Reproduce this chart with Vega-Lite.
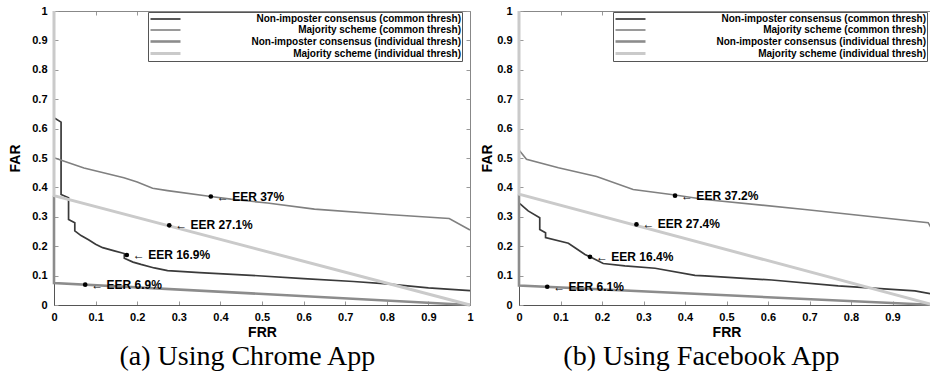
{
  "$schema": "https://vega.github.io/schema/vega-lite/v6.json",
  "padding": {"left": 8, "top": 5, "right": 0, "bottom": 0},
  "spacing": 4,
  "datasets": {
    "lines": [
      {"panel": "a", "series": "Non-imposter consensus (common thresh)", "frr": 0.002, "far": 0.635},
      {"panel": "a", "series": "Non-imposter consensus (common thresh)", "frr": 0.017, "far": 0.622},
      {"panel": "a", "series": "Non-imposter consensus (common thresh)", "frr": 0.017, "far": 0.376},
      {"panel": "a", "series": "Non-imposter consensus (common thresh)", "frr": 0.035, "far": 0.365},
      {"panel": "a", "series": "Non-imposter consensus (common thresh)", "frr": 0.035, "far": 0.291},
      {"panel": "a", "series": "Non-imposter consensus (common thresh)", "frr": 0.05, "far": 0.28},
      {"panel": "a", "series": "Non-imposter consensus (common thresh)", "frr": 0.05, "far": 0.252},
      {"panel": "a", "series": "Non-imposter consensus (common thresh)", "frr": 0.065, "far": 0.236},
      {"panel": "a", "series": "Non-imposter consensus (common thresh)", "frr": 0.083, "far": 0.222},
      {"panel": "a", "series": "Non-imposter consensus (common thresh)", "frr": 0.1, "far": 0.207},
      {"panel": "a", "series": "Non-imposter consensus (common thresh)", "frr": 0.117, "far": 0.195},
      {"panel": "a", "series": "Non-imposter consensus (common thresh)", "frr": 0.145, "far": 0.184},
      {"panel": "a", "series": "Non-imposter consensus (common thresh)", "frr": 0.169, "far": 0.175},
      {"panel": "a", "series": "Non-imposter consensus (common thresh)", "frr": 0.169, "far": 0.159},
      {"panel": "a", "series": "Non-imposter consensus (common thresh)", "frr": 0.19, "far": 0.146},
      {"panel": "a", "series": "Non-imposter consensus (common thresh)", "frr": 0.209, "far": 0.138},
      {"panel": "a", "series": "Non-imposter consensus (common thresh)", "frr": 0.241, "far": 0.126},
      {"panel": "a", "series": "Non-imposter consensus (common thresh)", "frr": 0.273, "far": 0.117},
      {"panel": "a", "series": "Non-imposter consensus (common thresh)", "frr": 0.35, "far": 0.11},
      {"panel": "a", "series": "Non-imposter consensus (common thresh)", "frr": 0.474, "far": 0.101},
      {"panel": "a", "series": "Non-imposter consensus (common thresh)", "frr": 0.6, "far": 0.09},
      {"panel": "a", "series": "Non-imposter consensus (common thresh)", "frr": 0.72, "far": 0.08},
      {"panel": "a", "series": "Non-imposter consensus (common thresh)", "frr": 0.8, "far": 0.072},
      {"panel": "a", "series": "Non-imposter consensus (common thresh)", "frr": 0.9, "far": 0.058},
      {"panel": "a", "series": "Non-imposter consensus (common thresh)", "frr": 1.0, "far": 0.049},
      {"panel": "a", "series": "Majority scheme (common thresh)", "frr": 0, "far": 0.501},
      {"panel": "a", "series": "Majority scheme (common thresh)", "frr": 0.072, "far": 0.466},
      {"panel": "a", "series": "Majority scheme (common thresh)", "frr": 0.168, "far": 0.433},
      {"panel": "a", "series": "Majority scheme (common thresh)", "frr": 0.2, "far": 0.418},
      {"panel": "a", "series": "Majority scheme (common thresh)", "frr": 0.237, "far": 0.397},
      {"panel": "a", "series": "Majority scheme (common thresh)", "frr": 0.273, "far": 0.389},
      {"panel": "a", "series": "Majority scheme (common thresh)", "frr": 0.377, "far": 0.369},
      {"panel": "a", "series": "Majority scheme (common thresh)", "frr": 0.425, "far": 0.36},
      {"panel": "a", "series": "Majority scheme (common thresh)", "frr": 0.513, "far": 0.347},
      {"panel": "a", "series": "Majority scheme (common thresh)", "frr": 0.626, "far": 0.326},
      {"panel": "a", "series": "Majority scheme (common thresh)", "frr": 0.802, "far": 0.308},
      {"panel": "a", "series": "Majority scheme (common thresh)", "frr": 0.95, "far": 0.294},
      {"panel": "a", "series": "Majority scheme (common thresh)", "frr": 1.0, "far": 0.255},
      {"panel": "a", "series": "Non-imposter consensus (individual thresh)", "frr": 0, "far": 0.372},
      {"panel": "a", "series": "Non-imposter consensus (individual thresh)", "frr": 0, "far": 0.075},
      {"panel": "a", "series": "Non-imposter consensus (individual thresh)", "frr": 1, "far": 0},
      {"panel": "a", "series": "Majority scheme (individual thresh)", "frr": 0, "far": 1},
      {"panel": "a", "series": "Majority scheme (individual thresh)", "frr": 0, "far": 0.372},
      {"panel": "a", "series": "Majority scheme (individual thresh)", "frr": 1, "far": 0},
      {"panel": "b", "series": "Non-imposter consensus (common thresh)", "frr": 0.002, "far": 0.345},
      {"panel": "b", "series": "Non-imposter consensus (common thresh)", "frr": 0.022, "far": 0.32},
      {"panel": "b", "series": "Non-imposter consensus (common thresh)", "frr": 0.05, "far": 0.297},
      {"panel": "b", "series": "Non-imposter consensus (common thresh)", "frr": 0.05, "far": 0.257},
      {"panel": "b", "series": "Non-imposter consensus (common thresh)", "frr": 0.064, "far": 0.246},
      {"panel": "b", "series": "Non-imposter consensus (common thresh)", "frr": 0.064, "far": 0.229},
      {"panel": "b", "series": "Non-imposter consensus (common thresh)", "frr": 0.119, "far": 0.21},
      {"panel": "b", "series": "Non-imposter consensus (common thresh)", "frr": 0.135, "far": 0.195},
      {"panel": "b", "series": "Non-imposter consensus (common thresh)", "frr": 0.159, "far": 0.172},
      {"panel": "b", "series": "Non-imposter consensus (common thresh)", "frr": 0.171, "far": 0.164},
      {"panel": "b", "series": "Non-imposter consensus (common thresh)", "frr": 0.203, "far": 0.141},
      {"panel": "b", "series": "Non-imposter consensus (common thresh)", "frr": 0.255, "far": 0.133},
      {"panel": "b", "series": "Non-imposter consensus (common thresh)", "frr": 0.328, "far": 0.125},
      {"panel": "b", "series": "Non-imposter consensus (common thresh)", "frr": 0.424, "far": 0.101},
      {"panel": "b", "series": "Non-imposter consensus (common thresh)", "frr": 0.448, "far": 0.099},
      {"panel": "b", "series": "Non-imposter consensus (common thresh)", "frr": 0.609, "far": 0.085},
      {"panel": "b", "series": "Non-imposter consensus (common thresh)", "frr": 0.769, "far": 0.065},
      {"panel": "b", "series": "Non-imposter consensus (common thresh)", "frr": 0.954, "far": 0.048},
      {"panel": "b", "series": "Non-imposter consensus (common thresh)", "frr": 1.0, "far": 0.036},
      {"panel": "b", "series": "Majority scheme (common thresh)", "frr": 0, "far": 0.527},
      {"panel": "b", "series": "Majority scheme (common thresh)", "frr": 0.018, "far": 0.496},
      {"panel": "b", "series": "Majority scheme (common thresh)", "frr": 0.095, "far": 0.467},
      {"panel": "b", "series": "Majority scheme (common thresh)", "frr": 0.187, "far": 0.437},
      {"panel": "b", "series": "Majority scheme (common thresh)", "frr": 0.275, "far": 0.393},
      {"panel": "b", "series": "Majority scheme (common thresh)", "frr": 0.376, "far": 0.374},
      {"panel": "b", "series": "Majority scheme (common thresh)", "frr": 0.448, "far": 0.359},
      {"panel": "b", "series": "Majority scheme (common thresh)", "frr": 0.689, "far": 0.325},
      {"panel": "b", "series": "Majority scheme (common thresh)", "frr": 0.986, "far": 0.28},
      {"panel": "b", "series": "Majority scheme (common thresh)", "frr": 1.0, "far": 0.246},
      {"panel": "b", "series": "Non-imposter consensus (individual thresh)", "frr": 0, "far": 0.376},
      {"panel": "b", "series": "Non-imposter consensus (individual thresh)", "frr": 0, "far": 0.066},
      {"panel": "b", "series": "Non-imposter consensus (individual thresh)", "frr": 1, "far": 0},
      {"panel": "b", "series": "Majority scheme (individual thresh)", "frr": 0, "far": 1},
      {"panel": "b", "series": "Majority scheme (individual thresh)", "frr": 0, "far": 0.377},
      {"panel": "b", "series": "Majority scheme (individual thresh)", "frr": 1, "far": 0}
    ],
    "points": [
      {"panel": "a", "frr": 0.377, "far": 0.369, "label": "← EER 37%"},
      {"panel": "a", "frr": 0.277, "far": 0.271, "label": "← EER 27.1%"},
      {"panel": "a", "frr": 0.175, "far": 0.17, "label": "← EER 16.9%"},
      {"panel": "a", "frr": 0.075, "far": 0.069, "label": "← EER 6.9%"},
      {"panel": "b", "frr": 0.376, "far": 0.372, "label": "← EER 37.2%"},
      {"panel": "b", "frr": 0.283, "far": 0.274, "label": "← EER 27.4%"},
      {"panel": "b", "frr": 0.171, "far": 0.164, "label": "← EER 16.4%"},
      {"panel": "b", "frr": 0.068, "far": 0.062, "label": "← EER 6.1%"}
    ]
  },
  "hconcat": [
    {
      "width": 416,
      "height": 294,
      "title": {"text": "(a) Using Chrome App", "orient": "bottom", "anchor": "middle", "frame": "bounds", "offset": 4, "dx": 5},
      "layer": [
        {
          "data": {"name": "lines"},
          "transform": [{"filter": "datum.panel == 'a'"}],
          "mark": {"type": "line", "strokeCap": "butt", "strokeJoin": "miter"},
          "encoding": {
            "x": {"field": "frr", "type": "quantitative", "scale": {"domain": [0, 1], "nice": false},
              "axis": {"orient": "bottom", "title": "FRR", "values": [0,0.1,0.2,0.3,0.4,0.5,0.6,0.7,0.8,0.9,1], "format": "~g", "tickSize": -4, "labelPadding": 10, "titlePadding": 3, "domainColor": "#555"}},
            "y": {"field": "far", "type": "quantitative", "scale": {"domain": [0, 1], "nice": false},
              "axis": {"orient": "left", "title": "FAR", "values": [0,0.1,0.2,0.3,0.4,0.5,0.6,0.7,0.8,0.9,1], "format": "~g", "tickSize": -4, "labelPadding": 11, "titlePadding": 9, "domainColor": "#555"}},
            "color": {"field": "series", "type": "nominal",
              "scale": {"domain": ["Non-imposter consensus (common thresh)", "Majority scheme (common thresh)", "Non-imposter consensus (individual thresh)", "Majority scheme (individual thresh)"], "range": ["#3a3a3a", "#808080", "#8c8c8c", "#cacaca"]},
              "legend": {"title": null}},
            "strokeWidth": {"field": "series", "type": "nominal",
              "scale": {"type": "ordinal", "domain": ["Non-imposter consensus (common thresh)", "Majority scheme (common thresh)", "Non-imposter consensus (individual thresh)", "Majority scheme (individual thresh)"], "range": [1.7, 1.6, 2.6, 3]},
              "legend": {"title": null}},
            "order": {"value": null}
          }
        },
        {
          "data": {"name": "points"},
          "transform": [{"filter": "datum.panel == 'a'"}],
          "mark": {"type": "point", "filled": true, "color": "black", "size": 22, "opacity": 1},
          "encoding": {
            "x": {"field": "frr", "type": "quantitative", "scale": {"domain": [0, 1], "nice": false},
              "axis": {"orient": "top", "title": null, "labels": false, "values": [0,0.1,0.2,0.3,0.4,0.5,0.6,0.7,0.8,0.9,1], "tickSize": -4, "domainColor": "#888"}},
            "y": {"field": "far", "type": "quantitative", "scale": {"domain": [0, 1], "nice": false},
              "axis": {"orient": "right", "title": null, "labels": false, "values": [0,0.1,0.2,0.3,0.4,0.5,0.6,0.7,0.8,0.9,1], "tickSize": -4, "domainColor": "#888"}}
          }
        },
        {
          "data": {"name": "points"},
          "transform": [{"filter": "datum.panel == 'a'"}],
          "mark": {"type": "text", "align": "left", "baseline": "middle", "dx": 6, "font": "Liberation Sans", "fontSize": 12, "fontWeight": "bold", "color": "black"},
          "encoding": {
            "x": {"field": "frr", "type": "quantitative", "scale": {"domain": [0, 1], "nice": false}, "axis": null},
            "y": {"field": "far", "type": "quantitative", "scale": {"domain": [0, 1], "nice": false}, "axis": null},
            "text": {"field": "label"}
          }
        }
      ],
      "resolve": {"axis": {"x": "independent", "y": "independent"}}
    },
    {
      "width": 415,
      "height": 294,
      "title": {"text": "(b) Using Facebook App", "orient": "bottom", "anchor": "middle", "frame": "bounds", "offset": 4, "dx": -9},
      "layer": [
        {
          "data": {"name": "lines"},
          "transform": [{"filter": "datum.panel == 'b'"}],
          "mark": {"type": "line", "strokeCap": "butt", "strokeJoin": "miter"},
          "encoding": {
            "x": {"field": "frr", "type": "quantitative", "scale": {"domain": [0, 1], "nice": false},
              "axis": {"orient": "bottom", "title": "FRR", "values": [0,0.1,0.2,0.3,0.4,0.5,0.6,0.7,0.8,0.9,1], "format": "~g", "tickSize": -4, "labelPadding": 10, "titlePadding": 3, "domainColor": "#555"}},
            "y": {"field": "far", "type": "quantitative", "scale": {"domain": [0, 1], "nice": false},
              "axis": {"orient": "left", "title": "FAR", "values": [0,0.1,0.2,0.3,0.4,0.5,0.6,0.7,0.8,0.9,1], "format": "~g", "tickSize": -4, "labelPadding": 11, "titlePadding": 2, "domainColor": "#555"}},
            "color": {"field": "series", "type": "nominal",
              "scale": {"domain": ["Non-imposter consensus (common thresh)", "Majority scheme (common thresh)", "Non-imposter consensus (individual thresh)", "Majority scheme (individual thresh)"], "range": ["#3a3a3a", "#808080", "#8c8c8c", "#cacaca"]},
              "legend": {"title": null}},
            "strokeWidth": {"field": "series", "type": "nominal",
              "scale": {"type": "ordinal", "domain": ["Non-imposter consensus (common thresh)", "Majority scheme (common thresh)", "Non-imposter consensus (individual thresh)", "Majority scheme (individual thresh)"], "range": [1.7, 1.6, 2.6, 3]},
              "legend": {"title": null}},
            "order": {"value": null}
          }
        },
        {
          "data": {"name": "points"},
          "transform": [{"filter": "datum.panel == 'b'"}],
          "mark": {"type": "point", "filled": true, "color": "black", "size": 22, "opacity": 1},
          "encoding": {
            "x": {"field": "frr", "type": "quantitative", "scale": {"domain": [0, 1], "nice": false},
              "axis": {"orient": "top", "title": null, "labels": false, "values": [0,0.1,0.2,0.3,0.4,0.5,0.6,0.7,0.8,0.9,1], "tickSize": -4, "domainColor": "#888"}},
            "y": {"field": "far", "type": "quantitative", "scale": {"domain": [0, 1], "nice": false},
              "axis": {"orient": "right", "title": null, "labels": false, "values": [0,0.1,0.2,0.3,0.4,0.5,0.6,0.7,0.8,0.9,1], "tickSize": -4, "domainColor": "#888"}}
          }
        },
        {
          "data": {"name": "points"},
          "transform": [{"filter": "datum.panel == 'b'"}],
          "mark": {"type": "text", "align": "left", "baseline": "middle", "dx": 6, "font": "Liberation Sans", "fontSize": 12, "fontWeight": "bold", "color": "black"},
          "encoding": {
            "x": {"field": "frr", "type": "quantitative", "scale": {"domain": [0, 1], "nice": false}, "axis": null},
            "y": {"field": "far", "type": "quantitative", "scale": {"domain": [0, 1], "nice": false}, "axis": null},
            "text": {"field": "label"}
          }
        }
      ],
      "resolve": {"axis": {"x": "independent", "y": "independent"}}
    }
  ],
  "resolve": {"scale": {"color": "independent", "strokeWidth": "independent"}, "legend": {"color": "independent", "strokeWidth": "independent"}},
  "config": {
    "view": {"stroke": null},
    "background": "white",
    "axis": {"grid": false, "labelFont": "Liberation Sans", "labelFontSize": 11, "labelFontWeight": "bold", "labelColor": "black", "titleFont": "Liberation Sans", "titleFontSize": 14, "titleFontWeight": "bold", "titleColor": "black", "tickColor": "#999", "labelFlush": false, "labelOverlap": false},
    "legend": {"orient": "none", "legendX": 94, "legendY": 1, "symbolType": "M-3,0H3", "symbolSize": 100, "symbolOffset": 10, "labelAlign": "right", "labelOffset": 289, "labelLimit": 400, "labelFont": "Liberation Sans", "labelFontSize": 10, "labelFontWeight": "bold", "labelColor": "black", "strokeColor": "#555", "fillColor": "white", "padding": 1, "rowPadding": 0},
    "title": {"font": "Liberation Serif", "fontSize": 28, "fontWeight": "normal", "color": "black"}
  }
}
